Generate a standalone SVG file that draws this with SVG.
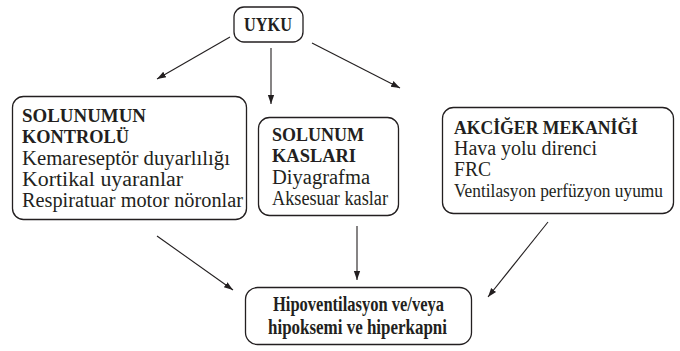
<svg xmlns="http://www.w3.org/2000/svg" width="680" height="351" viewBox="0 0 680 351">
<style>
.box{fill:#fff;stroke:#231f20;stroke-width:1.3}
.t{font-family:"Liberation Serif","Times New Roman",serif;font-size:20px;fill:#231f20}
.b{font-weight:bold;font-size:19.5px}
.big{font-size:21px}
.c{stroke:#231f20;stroke-width:1.1;fill:none;marker-end:url(#ah)}
</style>
<defs>
<marker id="ah" viewBox="0 0 10 10" refX="10" refY="5" markerWidth="9" markerHeight="9" markerUnits="userSpaceOnUse" orient="auto">
<path d="M0,1.5 L10,5 L0,8.5 z" fill="#231f20"/>
</marker>
</defs>
<g id="connectors">
<line class="c" x1="230" y1="37" x2="157" y2="79"/>
<line class="c" x1="271" y1="48" x2="271" y2="104"/>
<line class="c" x1="312" y1="43" x2="400" y2="88"/>
<line class="c" x1="157" y1="236" x2="233" y2="290"/>
<line class="c" x1="357" y1="226" x2="357" y2="280"/>
<line class="c" x1="548" y1="222" x2="488" y2="297"/>
</g>
<g id="uyku">
<rect class="box" x="234" y="7" width="69" height="35" rx="10"/>
<text class="t b" x="244" y="31" textLength="48" lengthAdjust="spacingAndGlyphs">UYKU</text>
</g>
<g id="solunum-kontrolu">
<rect class="box" x="12.5" y="96.5" width="234" height="123" rx="11"/>
<text class="t b" x="22" y="122" textLength="124" lengthAdjust="spacingAndGlyphs">SOLUNUMUN</text>
<text class="t b" x="22" y="143" textLength="107" lengthAdjust="spacingAndGlyphs">KONTROLÜ</text>
<text class="t" x="22" y="165" textLength="208" lengthAdjust="spacingAndGlyphs">Kemareseptör duyarlılığı</text>
<text class="t" x="22" y="186" textLength="161" lengthAdjust="spacingAndGlyphs">Kortikal uyaranlar</text>
<text class="t" x="22" y="207" textLength="221" lengthAdjust="spacingAndGlyphs">Respiratuar motor nöronlar</text>
</g>
<g id="solunum-kaslari">
<rect class="box" x="258.5" y="117.5" width="140" height="98" rx="11"/>
<text class="t b" x="272" y="141" textLength="92" lengthAdjust="spacingAndGlyphs">SOLUNUM</text>
<text class="t b" x="272" y="162" textLength="84" lengthAdjust="spacingAndGlyphs">KASLARI</text>
<text class="t" x="272" y="184" textLength="98" lengthAdjust="spacingAndGlyphs">Diyagrafma</text>
<text class="t" x="272" y="205" textLength="116" lengthAdjust="spacingAndGlyphs">Aksesuar kaslar</text>
</g>
<g id="akciger-mekanigi">
<rect class="box" x="442.5" y="107.5" width="231" height="106" rx="11"/>
<text class="t b" x="454" y="134" textLength="184" lengthAdjust="spacingAndGlyphs">AKCİĞER MEKANİĞİ</text>
<text class="t" x="454" y="155" textLength="143" lengthAdjust="spacingAndGlyphs">Hava yolu direnci</text>
<text class="t" x="454" y="176" textLength="37" lengthAdjust="spacingAndGlyphs">FRC</text>
<text class="t" x="454" y="197" style="font-size:18.5px" textLength="209" lengthAdjust="spacingAndGlyphs">Ventilasyon perfüzyon uyumu</text>
</g>
<g id="sonuc">
<rect class="box" x="245.5" y="287.5" width="226" height="57" rx="12"/>
<text class="t b big" x="273" y="311" textLength="171" lengthAdjust="spacingAndGlyphs">Hipoventilasyon ve/veya</text>
<text class="t b big" x="268" y="334" textLength="179" lengthAdjust="spacingAndGlyphs">hipoksemi ve hiperkapni</text>
</g>
</svg>
